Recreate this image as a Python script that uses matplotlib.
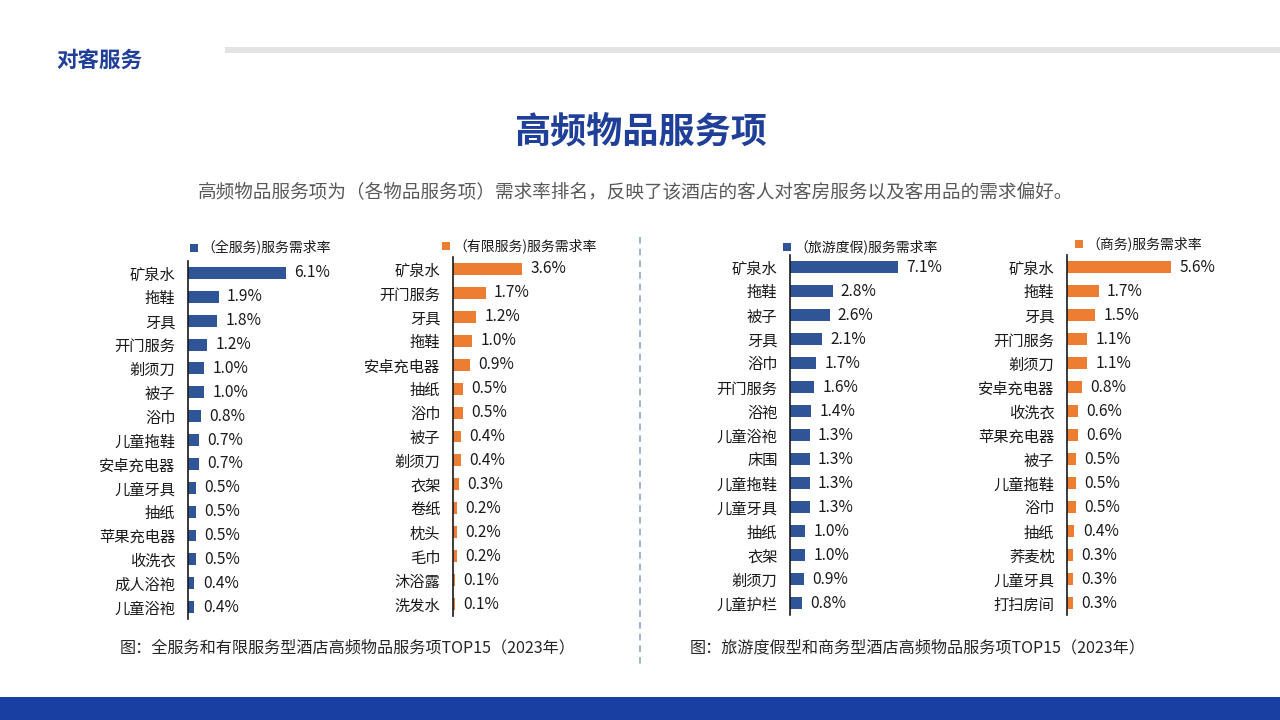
import matplotlib.pyplot as plt
from matplotlib.patches import Rectangle
from matplotlib.lines import Line2D

plt.rcParams['font.family'] = ['Noto Sans CJK SC', 'DejaVu Sans']

# 数据
cats_full = ['矿泉水', '拖鞋', '牙具', '开门服务', '剃须刀', '被子', '浴巾', '儿童拖鞋',
             '安卓充电器', '儿童牙具', '抽纸', '苹果充电器', '收洗衣', '成人浴袍', '儿童浴袍']
vals_full = [6.1, 1.9, 1.8, 1.2, 1.0, 1.0, 0.8, 0.7, 0.7, 0.5, 0.5, 0.5, 0.5, 0.4, 0.4]

cats_limited = ['矿泉水', '开门服务', '牙具', '拖鞋', '安卓充电器', '抽纸', '浴巾', '被子',
                '剃须刀', '衣架', '卷纸', '枕头', '毛巾', '沐浴露', '洗发水']
vals_limited = [3.6, 1.7, 1.2, 1.0, 0.9, 0.5, 0.5, 0.4, 0.4, 0.3, 0.2, 0.2, 0.2, 0.1, 0.1]

cats_resort = ['矿泉水', '拖鞋', '被子', '牙具', '浴巾', '开门服务', '浴袍', '儿童浴袍',
               '床围', '儿童拖鞋', '儿童牙具', '抽纸', '衣架', '剃须刀', '儿童护栏']
vals_resort = [7.1, 2.8, 2.6, 2.1, 1.7, 1.6, 1.4, 1.3, 1.3, 1.3, 1.3, 1.0, 1.0, 0.9, 0.8]

cats_business = ['矿泉水', '拖鞋', '牙具', '开门服务', '剃须刀', '安卓充电器', '收洗衣', '苹果充电器',
                 '被子', '儿童拖鞋', '浴巾', '抽纸', '荞麦枕', '儿童牙具', '打扫房间']
vals_business = [5.6, 1.7, 1.5, 1.1, 1.1, 0.8, 0.6, 0.6, 0.5, 0.5, 0.5, 0.4, 0.3, 0.3, 0.3]

BLUE = '#2F5597'
ORANGE = '#ED7D31'
DARK_BLUE = '#1F3F99'

W, H = 1280, 720
fig = plt.figure(figsize=(12.8, 7.2), dpi=100)
fig.patch.set_facecolor('white')


def px_axes(x, y_top, w, h):
    # 像素坐标 -> figure 坐标
    return fig.add_axes([x / W, 1 - (y_top + h) / H, w / W, h / H])


# 背景装饰
bg = fig.add_axes([0, 0, 1, 1])
bg.set_xlim(0, W)
bg.set_ylim(H, 0)
bg.axis('off')
bg.add_patch(Rectangle((225, 47), W - 225, 6, color='#E3E3E3', lw=0))
bg.add_patch(Rectangle((0, 697), W, 23, color='#1A3FA3', lw=0))
bg.add_line(Line2D([640, 640], [237, 668], color='#8FA6C9', lw=1.2, ls=(0, (4, 3))))
bg.text(56, 60, '对客服务', fontsize=15.5, fontweight='bold', color=DARK_BLUE, va='center')
bg.text(640, 133, '高频物品服务项', fontsize=26, fontweight='bold', color=DARK_BLUE,
        ha='center', va='center')
bg.text(636, 192, '高频物品服务项为（各物品服务项）需求率排名，反映了该酒店的客人对客房服务以及客用品的需求偏好。',
        fontsize=13.4, color='#595959', ha='center', va='center')
bg.text(120, 648, '图：全服务和有限服务型酒店高频物品服务项TOP15（2023年）',
        fontsize=11.6, color='#262626', va='center')
bg.text(690, 648, '图：旅游度假型和商务型酒店高频物品服务项TOP15（2023年）',
        fontsize=11.6, color='#262626', va='center')


def draw_panel(x, y_top, w, h, xmax, cats, vals, color, legend, leg_x, leg_y):
    ax = px_axes(x, y_top, w, h)
    ypos = list(range(len(cats)))
    ax.barh(ypos, vals, height=0.5, color=color)
    ax.set_xlim(0, xmax)
    ax.set_ylim(len(cats) - 0.5, -0.5)
    ax.set_yticks(ypos)
    ax.set_yticklabels(cats, fontsize=11, color='#1a1a1a')
    ax.set_xticks([])
    ax.tick_params(axis='y', length=0, pad=9)
    for s in ['top', 'right', 'bottom']:
        ax.spines[s].set_visible(False)
    ax.spines['left'].set_color('#1a1a1a')
    ax.spines['left'].set_linewidth(1.2)
    ax.patch.set_alpha(0)
    for yv, v in zip(ypos, vals):
        ax.annotate(f'{v:.1f}%', (v, yv), xytext=(6, 0), textcoords='offset points',
                    fontsize=11.2, color='#1a1a1a', va='center', ha='left')
    bg.add_patch(Rectangle((leg_x, leg_y - 4), 8, 8, color=color, lw=0))
    bg.text(leg_x + 11, leg_y, legend, fontsize=10, color='#1a1a1a', va='center')


draw_panel(188, 261, 130, 358, 130 / 16.1, cats_full, vals_full, BLUE,
           '（全服务)服务需求率', 190, 248)
draw_panel(453, 257, 110, 359, 110 / 19.2, cats_limited, vals_limited, ORANGE,
           '（有限服务)服务需求率', 442, 246)
draw_panel(790, 255, 140, 360, 140 / 15.2, cats_resort, vals_resort, BLUE,
           '（旅游度假)服务需求率', 783, 247)
draw_panel(1067, 255, 130, 360, 130 / 18.6, cats_business, vals_business, ORANGE,
           '（商务)服务需求率', 1075, 244)

fig.savefig('out.png', dpi=100, facecolor='white')
